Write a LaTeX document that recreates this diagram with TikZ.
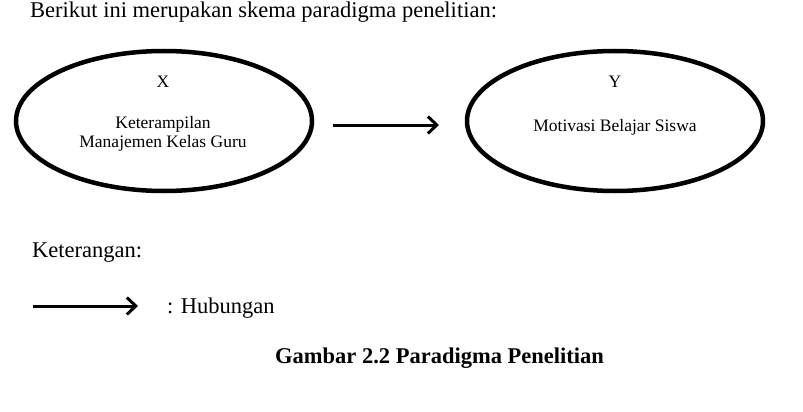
\documentclass[tikz,border=0pt]{standalone}
\usepackage{fontspec}
\setmainfont{Liberation Serif}
\usetikzlibrary{shapes.geometric,arrows.meta}
\tikzset{
  bodytxt/.style={font=\fontsize{22.5}{26}\selectfont, inner sep=0pt},
  elltxt/.style={font=\fontsize{17.5}{20}\selectfont, inner sep=0pt},
  capt/.style={font=\fontsize{22.5}{26}\selectfont\bfseries, inner sep=0pt},
  oval/.style={draw, ellipse, line width=4.5pt, minimum width=296pt, minimum height=140pt, inner sep=0pt},
  arr/.style={line width=3pt, -{Straight Barb[length=9pt,width=17pt,line width=3pt]}}
}
\begin{document}
\begin{tikzpicture}[x=1pt,y=-1pt]
\useasboundingbox (0,0) rectangle (803,412);
\node[bodytxt, anchor=base west] (hdr) at (30,18) {Berikut ini merupakan skema paradigma penelitian:};
% ellipses
\node[oval] (ex) at (164,121) {};
\node[oval] (ey) at (615,121) {};
\node[elltxt] (xl) at (163,82) {X};
\node[elltxt, anchor=base] (xk) at (163,128) {Keterampilan};
\node[elltxt, anchor=base] (xm) at (163,147) {Manajemen Kelas Guru};
\node[elltxt] (yl) at (615,82) {Y};
\node[elltxt, anchor=base] (ym) at (615,131) {Motivasi Belajar Siswa};
% main arrow
\coordinate (a1) at (333,125);
\coordinate (a2) at (439,125);
\draw[arr] (a1) -- (a2);
% legend
\node[bodytxt, anchor=base west] (ket) at (32,257) {Keterangan:};
\coordinate (l1) at (33,306);
\coordinate (l2) at (138,306);
\draw[arr] (l1) -- (l2);
\node[bodytxt, anchor=base west] (hub) at (167,313) {: Hubungan};
\node[capt, anchor=base west] (cap) at (275,363) {Gambar 2.2 Paradigma Penelitian};
\end{tikzpicture}
\end{document}
